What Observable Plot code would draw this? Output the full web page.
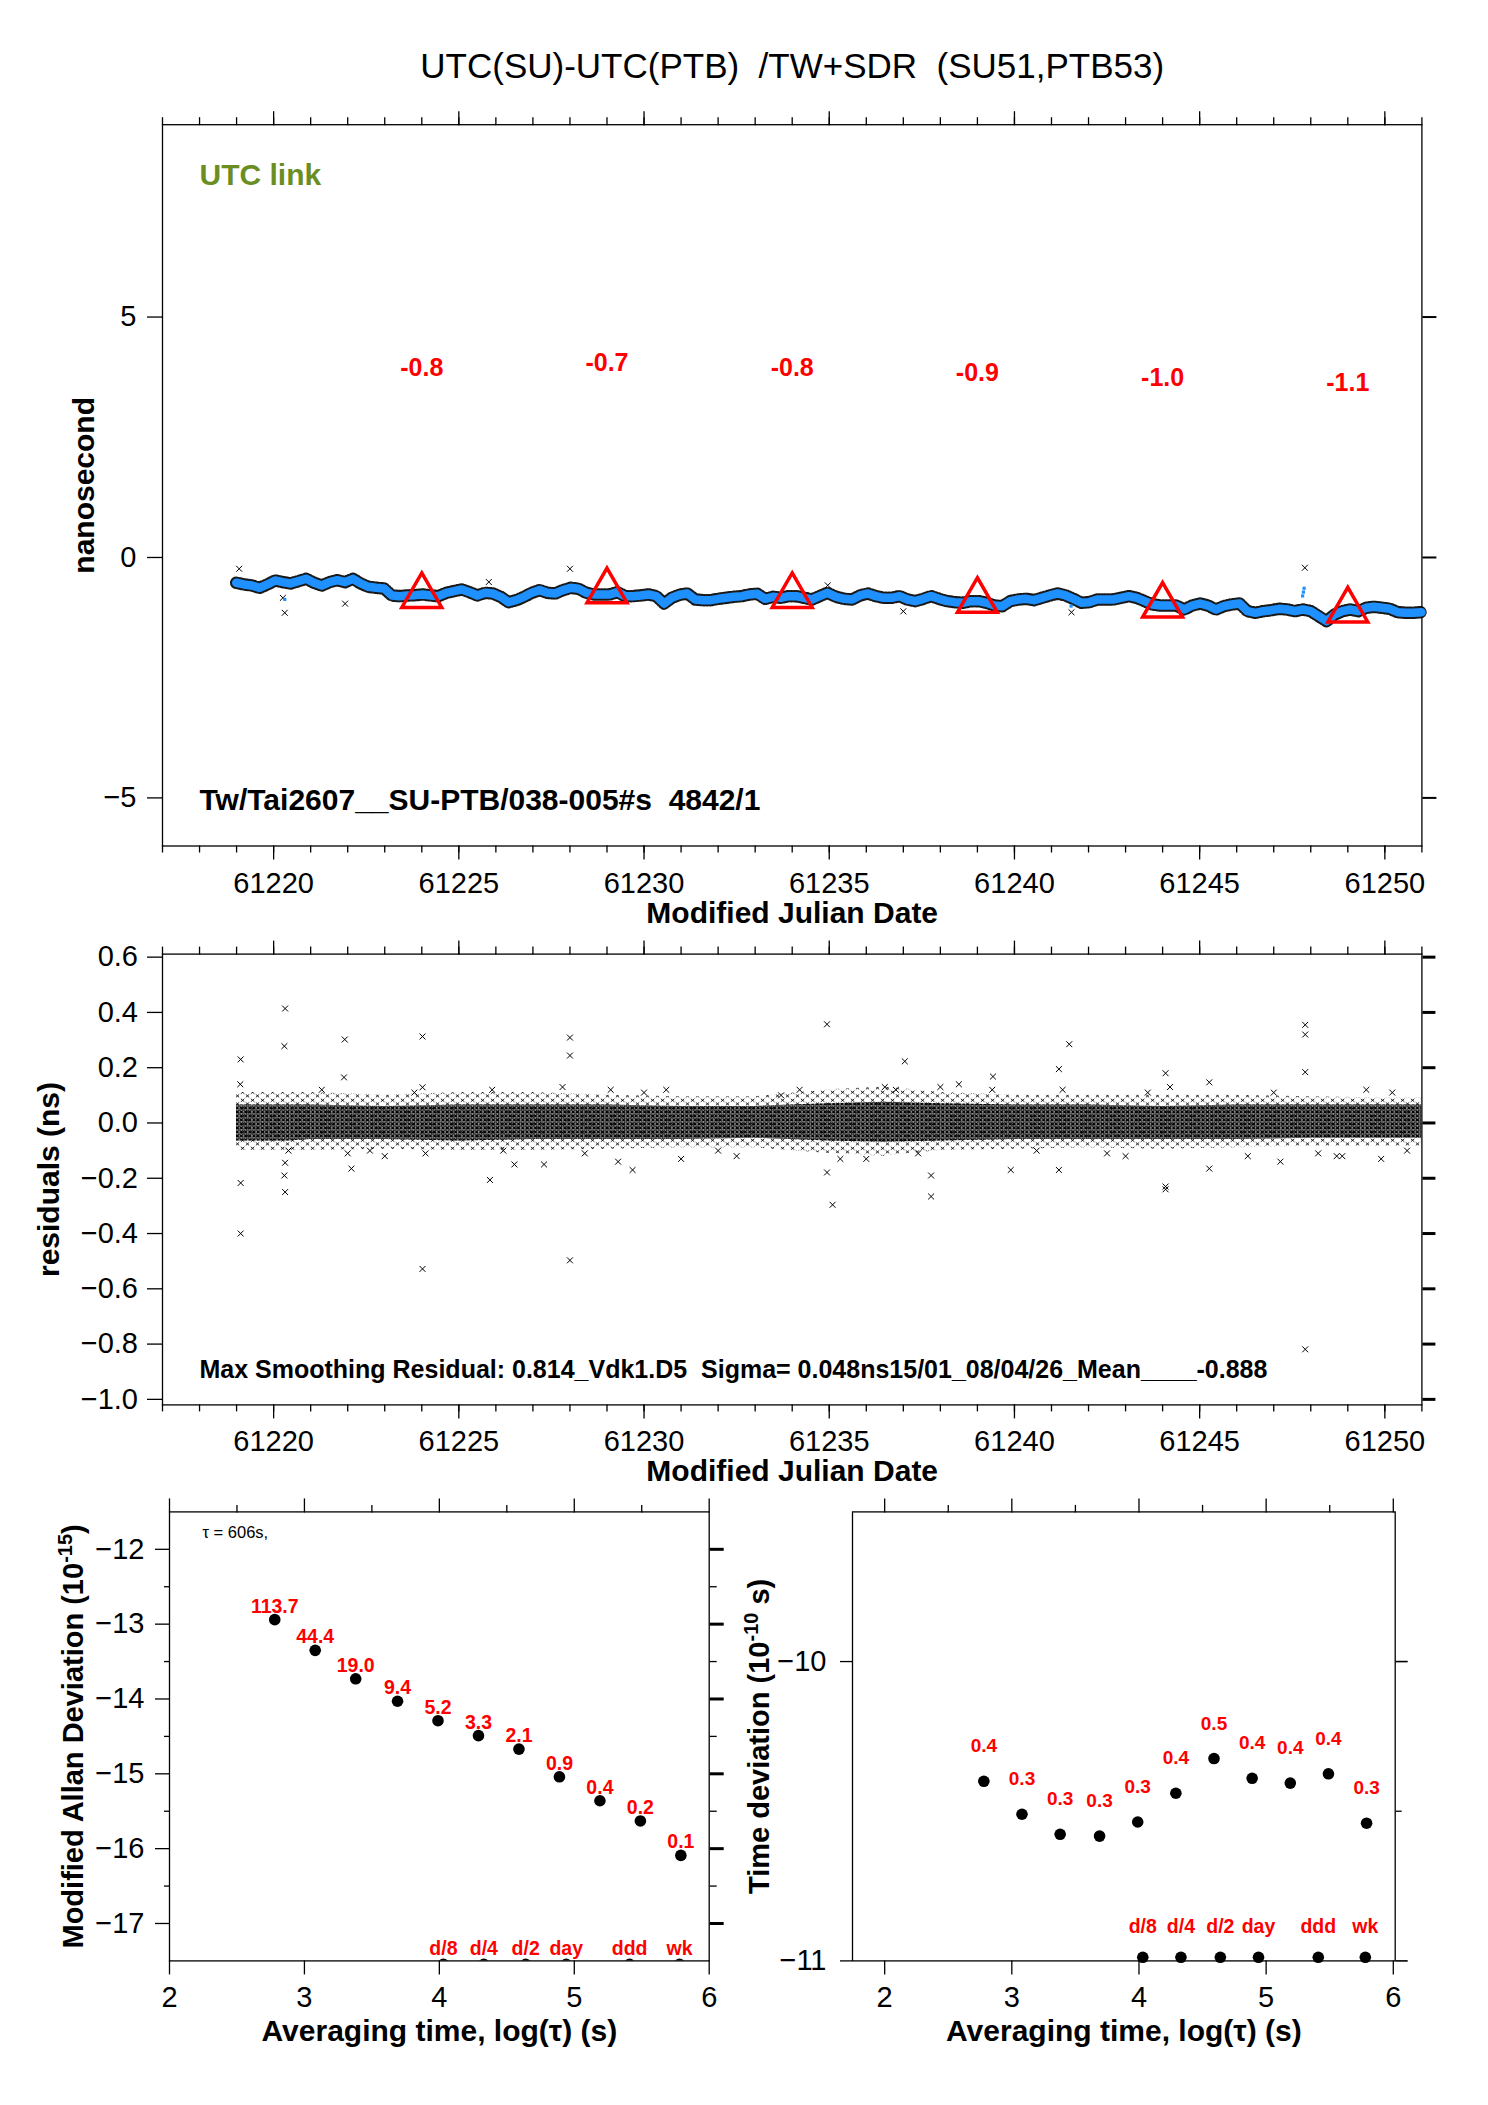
<!DOCTYPE html>
<html><head><meta charset="utf-8">
<script src="https://cdn.jsdelivr.net/npm/d3@7"></script>
<script src="https://cdn.jsdelivr.net/npm/@observablehq/plot@0.6"></script>
<style>
body{margin:0;background:#fff;}
#wrap{position:relative;width:1488px;height:2105px;background:#fff;overflow:hidden;}
#wrap svg{position:absolute;overflow:visible;}
</style></head><body><div id="wrap">
<svg width="0" height="0" style="position:absolute;left:0;top:0"><defs>
<pattern id="xcore" width="4.2" height="4" patternUnits="userSpaceOnUse"><path d="M0.4,0.4L3.6,3.4M3.6,0.4L0.4,3.4" stroke="#000" stroke-width="1" fill="none"/></pattern>
<pattern id="xout" width="10" height="8" patternUnits="userSpaceOnUse"><path d="M0.8,0.8L4.4,3.8M4.4,0.8L0.8,3.8M5.8,4.4L9.2,7.4M9.2,4.4L5.8,7.4" stroke="#000" stroke-width="0.85" fill="none"/></pattern>
</defs></svg>
</div>
<script>
// ---------------- DATA ----------------
const titleText = "UTC(SU)-UTC(PTB)\u00a0 /TW+SDR\u00a0 (SU51,PTB53)";
const linkText = "UTC link";
const fileText = "Tw/Tai2607__SU-PTB/038-005#s\u00a0 4842/1";
const residText = "Max Smoothing Residual: 0.814_Vdk1.D5\u00a0 Sigma= 0.048ns15/01_08/04/26_Mean____-0.888";
const tauText = "\u03c4 = 606s,";

// smoothed link series (blue), two segments with regular sampling
const blueStartA = 61218.99, blueStepA = 0.21;
const blueA = [-0.526,-0.561,-0.582,-0.631,-0.561,-0.478,-0.513,-0.540,-0.492,-0.443,
  -0.526,-0.582,-0.513,-0.471,-0.513,-0.443,-0.540,-0.610,-0.631,-0.644,
  -0.790,-0.804,-0.790,-0.783,-0.769,-0.790,-0.804,-0.735,-0.700,-0.665,
  -0.721,-0.790,-0.735,-0.749,-0.818,-0.929,-0.888,-0.818,-0.735,-0.679,
  -0.735,-0.749,-0.679,-0.631,-0.651,-0.735,-0.769,-0.769,-0.769,-0.721,
  -0.804,-0.804,-0.790,-0.769,-0.804,-0.957,-0.839,-0.776,-0.749,-0.874,
  -0.888,-0.888,-0.860,-0.839,-0.818,-0.804,-0.769,-0.756,-0.860,-0.818,
  -0.839,-0.804,-0.804,-0.839,-0.874,-0.804,-0.735];
const blueStartB = 61235.19, blueStepB = 0.2135;
const blueB = [-0.818,-0.860,-0.874,-0.790,-0.749,-0.804,-0.839,-0.839,-0.804,-0.874,
  -0.908,-0.860,-0.804,-0.860,-0.908,-0.929,-0.943,-0.908,-0.908,-0.943,
  -0.999,-1.013,-0.908,-0.874,-0.860,-0.888,-0.839,-0.790,-0.749,-0.790,
  -0.860,-0.943,-0.929,-0.874,-0.874,-0.874,-0.839,-0.804,-0.839,-0.908,
  -0.978,-0.999,-0.999,-0.999,-1.082,-0.999,-0.957,-0.999,-1.082,-1.013,
  -0.978,-0.957,-1.117,-1.151,-1.117,-1.096,-1.068,-1.082,-1.117,-1.082,
  -1.117,-1.221,-1.325,-1.186,-1.117,-1.082,-1.117,-1.047,-1.026,-1.047,
  -1.068,-1.137,-1.151,-1.151,-1.137];

// isolated raw points in the top panel
const rawOutMJD = [61219.07,61220.30,61220.25,61221.93,61225.81,61228.00,61234.96,61237.00,61241.54,61247.84];
const rawOutVal = [-0.235,-1.15,-0.84,-0.96,-0.51,-0.235,-0.58,-1.12,-1.14,-0.214];
const blueOutMJD = [61220.30,61241.53,61247.82,61247.80,61247.78];
const blueOutVal = [-0.87,-1.01,-0.64,-0.72,-0.80];

// markers (triangles) and their labels
const triMJD = [61224,61229,61234,61239,61244,61249];
const triVal = [-0.8,-0.7,-0.8,-0.9,-1.0,-1.1];
const triLabel = ["-0.8","-0.7","-0.8","-0.9","-1.0","-1.1"];

// residual cloud envelope
const bandMJD = [61219,61220.25,61220.4,61221,61223,61225,61227,61229,61231,61233,61235,61236.5,61238,61240,61242,61244,61246,61248,61250,61251];
const coreHi = [0.065,0.065,0.065,0.065,0.06,0.065,0.065,0.065,0.06,0.06,0.07,0.075,0.07,0.065,0.065,0.06,0.065,0.065,0.065,0.065];
const coreLo = [-0.065,-0.065,-0.065,-0.06,-0.06,-0.065,-0.06,-0.06,-0.06,-0.055,-0.065,-0.07,-0.065,-0.06,-0.06,-0.06,-0.06,-0.055,-0.055,-0.055];
const outerHi = [0.11,0.11,0.11,0.11,0.10,0.11,0.11,0.10,0.095,0.095,0.12,0.13,0.11,0.10,0.10,0.10,0.10,0.095,0.09,0.09];
const outerLo = [-0.10,-0.10,-0.10,-0.10,-0.095,-0.10,-0.10,-0.095,-0.09,-0.09,-0.11,-0.12,-0.10,-0.095,-0.09,-0.095,-0.09,-0.085,-0.085,-0.085];
// residual outliers
const resMJD = [61219.11,61219.11,61219.11,61220.31,61220.29,61220.31,61220.29,61220.31,61221.92,61221.90,
  61224.02,61224.02,61224.02,61228.00,61228.00,61228.00,61225.84,61234.94,61235.09,61234.94,
  61237.04,61237.75,61237.75,61241.48,61241.20,61244.08,61244.08,61244.08,61247.85,61247.85,
  61247.85,61247.85,61245.26,61239.90,61239.42,61229.69,61247.18,61241.20,61245.26,61248.85,
  61222.00,61222.10,61219.10,61226.50,61229.10,61229.30,61230.00,61232.50,61235.30,61236.50,
  61238.50,61239.40,61243.00,61249.90,61250.20,61233.70,61223.00,61227.30,61231.00,61248.70,
  61220.40,61221.30,61222.60,61223.80,61224.10,61225.90,61226.20,61227.80,61228.40,61230.60,
  61232.00,61234.20,61236.00,61236.80,61237.40,61238.00,61240.60,61241.30,61242.50,61243.60,
  61244.20,61246.30,61247.00,61248.20,61249.50,61250.60];
const resVal = [0.23,-0.40,-0.217,0.414,0.278,-0.25,-0.19,-0.144,0.302,0.165,
  0.313,-0.528,0.129,0.309,0.244,-0.497,-0.206,0.357,-0.296,-0.179,
  0.223,-0.266,-0.19,0.285,0.195,-0.24,-0.23,0.18,-0.819,0.355,
  0.32,0.184,0.147,-0.17,0.168,-0.17,-0.14,-0.17,-0.165,-0.12,
  -0.11,-0.165,0.14,-0.15,0.12,-0.14,0.11,-0.12,-0.13,0.13,
  0.14,0.12,-0.12,-0.13,0.11,0.10,-0.12,-0.15,-0.13,-0.12,
  -0.10,0.12,-0.10,0.11,-0.11,0.12,-0.10,0.13,-0.11,0.12,
  -0.10,0.12,-0.13,0.12,-0.11,0.13,-0.10,0.12,-0.11,0.11,
  0.13,-0.12,0.11,-0.11,0.12,-0.10];

// stability panels
const logTau = [2.78,3.08,3.38,3.69,3.99,4.29,4.59,4.89,5.19,5.49,5.79];
const mdev = [-12.94,-13.35,-13.73,-14.03,-14.29,-14.49,-14.67,-15.04,-15.36,-15.63,-16.09];
const mdevLabel = ["113.7","44.4","19.0","9.4","5.2","3.3","2.1","0.9","0.4","0.2","0.1"];
const tdev = [-10.40,-10.51,-10.577,-10.583,-10.536,-10.44,-10.324,-10.39,-10.406,-10.375,-10.54];
const tdevLabel = ["0.4","0.3","0.3","0.3","0.3","0.4","0.5","0.4","0.4","0.4","0.3"];
const markName = ["d/8","d/4","d/2","day","ddd","wk"];
const markLogTau = [4.03,4.33,4.64,4.94,5.41,5.78];

// ---------------- BUILD ----------------
const FONT = '"Liberation Sans", Arial, Helvetica, sans-serif';
const RED = "#ff0000", BLUE = "#1e90ff", OLIVE = "#6b8e23";
const fmtInt = d3.format("d"), fmt1 = d3.format(".1f");

const blue = [...blueA.map((v,i)=>({t: blueStartA + i*blueStepA, v})),
              ...blueB.map((v,i)=>({t: blueStartB + i*blueStepB, v}))];
const rawOut = rawOutMJD.map((t,i)=>({t, v: rawOutVal[i]}));
const blueOut = blueOutMJD.map((t,i)=>({t, v: blueOutVal[i]}));
const tri = triMJD.map((t,i)=>({t, v: triVal[i], label: triLabel[i]}));
const band = bandMJD.map((t,i)=>({t, ch: coreHi[i], cl: coreLo[i], oh: outerHi[i], ol: outerLo[i]}));
const res = resMJD.map((t,i)=>({t, v: resVal[i]}));
const adev = logTau.map((x,i)=>({x, y: mdev[i], label: mdevLabel[i]}));
const tdv = logTau.map((x,i)=>({x, y: tdev[i], label: tdevLabel[i]}));
const marks = markLogTau.map((x,i)=>({x, name: markName[i]}));

const wrap = document.getElementById("wrap");
function place(svg, left, top){ svg.style.left = left+"px"; svg.style.top = top+"px"; wrap.appendChild(svg); fixSup(svg); }
function fixSup(svg){
  const ns = "http://www.w3.org/2000/svg";
  svg.querySelectorAll("text").forEach(t => {
    const m = t.textContent.match(/^(.*)\^\{(.*?)\}(.*)$/);
    if (!m) return;
    t.textContent = "";
    const a = document.createElementNS(ns,"tspan"); a.textContent = m[1]; t.appendChild(a);
    const b = document.createElementNS(ns,"tspan"); b.textContent = m[2]; b.setAttribute("dy","-11"); b.setAttribute("font-size","20"); t.appendChild(b);
    const c = document.createElementNS(ns,"tspan"); c.textContent = m[3]; c.setAttribute("dy","11"); t.appendChild(c);
  });
}
const baseStyle = {fontFamily: FONT, fontSize: "29px", background: "transparent", color: "black"};
const yLabel = (txt, dx, size=30) => Plot.text([txt], {frameAnchor:"left", dx, rotate:-90, textAnchor:"middle", lineAnchor:"middle", fontWeight:"bold", fontSize:size, text:d=>d});

function mjdAxes(){
  return [
    Plot.axisX({anchor:"bottom", ticks: d3.range(61220,61251,5), tickSize:14, tickPadding:12, tickFormat: d=>String(d), fontSize:29, label:null, strokeWidth:1.3}),
    Plot.axisX({anchor:"bottom", ticks: d3.range(61217,61252), tickSize:7, fill:null, label:null, strokeWidth:1.3}),
    Plot.axisX({anchor:"top", ticks: d3.range(61220,61251,5), tickSize:14, fill:null, label:null, strokeWidth:1.3}),
    Plot.axisX({anchor:"top", ticks: d3.range(61217,61252), tickSize:8, fill:null, label:null, strokeWidth:1.3}),
    Plot.text(["Modified Julian Date"], {frameAnchor:"bottom", dy:76.5, lineAnchor:"bottom", fontWeight:"bold", fontSize:30, text:d=>d})
  ];
}

// Panel 1
const p1 = Plot.plot({
  width:1488, height:930, marginLeft:162, marginRight:66.6, marginTop:124.2, marginBottom:84.5,
  style: baseStyle,
  x:{domain:[61217,61251]}, y:{domain:[-6,9]},
  marks:[
    Plot.frame({strokeWidth:1.3}),
    ...mjdAxes(),
    Plot.axisY({anchor:"left", ticks:[-5,0,5], tickSize:15, tickPadding:11, tickFormat:fmtInt, fontSize:29, label:null, strokeWidth:1.3}),
    Plot.axisY({anchor:"right", ticks:[-5,0,5], tickSize:14, fill:null, label:null, strokeWidth:2}),
    Plot.line(blue, {x:"t", y:"v", stroke:"black", strokeWidth:12.5, strokeDasharray:"1,2", strokeOpacity:0.9}),
    Plot.line(blue, {x:"t", y:"v", stroke:BLUE, strokeWidth:8.5}),
    Plot.dot(rawOut, {x:"t", y:"v", symbol:"times", r:2.8, stroke:"black", strokeWidth:1}),
    Plot.dot(blueOut, {x:"t", y:"v", symbol:"square", r:1.8, fill:BLUE}),
    Plot.dot(tri, {x:"t", y:"v", symbol:"triangle", r:14.8, stroke:RED, strokeWidth:3.5, fill:"none"}),
    Plot.text(tri, {x:"t", y:d=>d.v+4.57, text:"label", fill:RED, fontWeight:"bold", fontSize:25, lineAnchor:"bottom"}),
    Plot.text([linkText], {frameAnchor:"top-left", dx:37, dy:60, lineAnchor:"bottom", textAnchor:"start", fill:OLIVE, fontWeight:"bold", fontSize:30, text:d=>d}),
    Plot.text([fileText], {frameAnchor:"bottom-left", dx:37, dy:-36.5, lineAnchor:"bottom", textAnchor:"start", fontWeight:"bold", fontSize:30, text:d=>d}),
    yLabel("nanosecond", -78),
    Plot.text([titleText], {frameAnchor:"top", dy:-47, lineAnchor:"bottom", fontSize:35, text:d=>d})
  ]
});
place(p1, 0, 0);

// Panel 2
const p2 = Plot.plot({
  width:1488, height:560, marginLeft:162, marginRight:66.6, marginTop:23.6, marginBottom:85.6,
  style: baseStyle,
  x:{domain:[61217,61251]}, y:{domain:[-1.02,0.611]},
  marks:[
    Plot.areaY(band, {x:"t", y1:"ol", y2:"oh", fill:"url(#xout)", clip:true}),
    Plot.areaY(band, {x:"t", y1:"cl", y2:"ch", fill:"black", fillOpacity:0.45, clip:true}),
    Plot.areaY(band, {x:"t", y1:"cl", y2:"ch", fill:"url(#xcore)", clip:true}),
    Plot.dot(res, {x:"t", y:"v", symbol:"times", r:2.8, stroke:"black", strokeWidth:1}),
    Plot.frame({strokeWidth:1.3}),
    ...mjdAxes(),
    Plot.axisY({anchor:"left", ticks:d3.range(-10,7,2).map(d=>d/10), tickSize:15, tickPadding:9.5, tickFormat:fmt1, fontSize:29, label:null, strokeWidth:1.3}),
    Plot.axisY({anchor:"right", ticks:d3.range(-10,7,2).map(d=>d/10), tickSize:13, fill:null, label:null, strokeWidth:3}),
    Plot.text([residText], {frameAnchor:"bottom-left", dx:37, dy:-27.4, lineAnchor:"bottom", textAnchor:"start", fontWeight:"bold", fontSize:25, text:d=>d}),
    yLabel("residuals (ns)", -113)
  ]
});
place(p2, 0, 930);

// Panel 3 (MDEV)
const p3 = Plot.plot({
  width:730, height:615, marginLeft:169, marginRight:21.3, marginTop:21.4, marginBottom:144.6,
  style: baseStyle,
  x:{domain:[2,6]}, y:{domain:[-17.5,-11.5]},
  marks:[
    Plot.frame({strokeWidth:1.3}),
    Plot.axisX({anchor:"bottom", ticks:[2,3,4,5,6], tickSize:14, tickPadding:12, tickFormat:fmtInt, fontSize:29, label:null, strokeWidth:1.3}),
    Plot.axisX({anchor:"top", ticks:[2,3,4,5,6], tickSize:14, fill:null, label:null, strokeWidth:1.3}),
    Plot.axisX({anchor:"top", ticks:[2.5,3.5,4.5,5.5], tickSize:7.5, fill:null, label:null, strokeWidth:1.3}),
    Plot.axisY({anchor:"left", ticks:d3.range(-17,-11.9,1), tickSize:14, tickPadding:11, tickFormat:fmtInt, fontSize:29, label:null, strokeWidth:1.3}),
    Plot.axisY({anchor:"left", ticks:[-16.5,-15.5,-14.5,-13.5,-12.5], tickSize:5, fill:null, label:null, strokeWidth:1.3}),
    Plot.axisY({anchor:"right", ticks:d3.range(-17,-11.9,1), tickSize:14, fill:null, label:null, strokeWidth:3}),
    Plot.axisY({anchor:"right", ticks:[-16.5,-15.5,-14.5,-13.5,-12.5], tickSize:7, fill:null, label:null, strokeWidth:1.3}),
    Plot.dot(adev, {x:"x", y:"y", r:5.8, fill:"black"}),
    Plot.text(adev, {x:"x", y:"y", dy:-7, text:"label", fill:RED, fontWeight:"bold", fontSize:19.5, lineAnchor:"bottom"}),
    Plot.dot(marks, {x:"x", y:()=>-17.545, r:5.8, fill:"black", clip:true}),
    Plot.text(marks, {x:"x", y:()=>-17.5, dy:-6.4, text:"name", fill:RED, fontWeight:"bold", fontSize:19.5, lineAnchor:"bottom"}),
    Plot.text([tauText], {frameAnchor:"top-left", dx:33, dy:26, lineAnchor:"bottom", textAnchor:"start", fontSize:16.5, text:d=>d}),
    yLabel("Modified Allan Deviation (10^{-15})", -96, 29),
    Plot.text(["Averaging time, log(\u03c4) (s)"], {frameAnchor:"bottom", dy:79.6, lineAnchor:"bottom", fontWeight:"bold", fontSize:30, text:d=>d})
  ]
});
place(p3, 0, 1490);

// Panel 4 (TDEV)
const p4 = Plot.plot({
  width:758, height:615, marginLeft:122, marginRight:93.3, marginTop:21.4, marginBottom:144.6,
  style: baseStyle,
  x:{domain:[1.747,6.015]}, y:{domain:[-11,-9.5]},
  marks:[
    Plot.frame({strokeWidth:1.3}),
    Plot.axisX({anchor:"bottom", ticks:[2,3,4,5,6], tickSize:14, tickPadding:12, tickFormat:fmtInt, fontSize:29, label:null, strokeWidth:1.3}),
    Plot.axisX({anchor:"top", ticks:[2,3,4,5,6], tickSize:14, fill:null, label:null, strokeWidth:1.3}),
    Plot.axisX({anchor:"top", ticks:[2.5,3.5,4.5,5.5], tickSize:7.5, fill:null, label:null, strokeWidth:1.3}),
    Plot.axisY({anchor:"left", ticks:[-11,-10], tickSize:12, tickPadding:14, tickFormat:fmtInt, fontSize:29, label:null, strokeWidth:1.3}),
    Plot.axisY({anchor:"right", ticks:[-11,-10], tickSize:12, fill:null, label:null, strokeWidth:1.6}),
    Plot.axisY({anchor:"right", ticks:[-10.5], tickSize:6, fill:null, label:null, strokeWidth:1.3}),
    Plot.dot(tdv, {x:"x", y:"y", r:5.8, fill:"black"}),
    Plot.text(tdv, {x:"x", y:"y", dy:-29, text:"label", fill:RED, fontWeight:"bold", fontSize:19, lineAnchor:"bottom"}),
    Plot.dot(marks, {x:"x", y:()=>-10.988, r:5.8, fill:"black"}),
    Plot.text(marks, {x:"x", y:()=>-10.988, dy:-24, text:"name", fill:RED, fontWeight:"bold", fontSize:19.5, lineAnchor:"bottom"}),
    yLabel("Time deviation (10^{-10} s)", -93, 29),
    Plot.text(["Averaging time, log(\u03c4) (s)"], {frameAnchor:"bottom", dy:79.6, lineAnchor:"bottom", fontWeight:"bold", fontSize:30, text:d=>d})
  ]
});
place(p4, 730, 1490);
</script></body></html>
